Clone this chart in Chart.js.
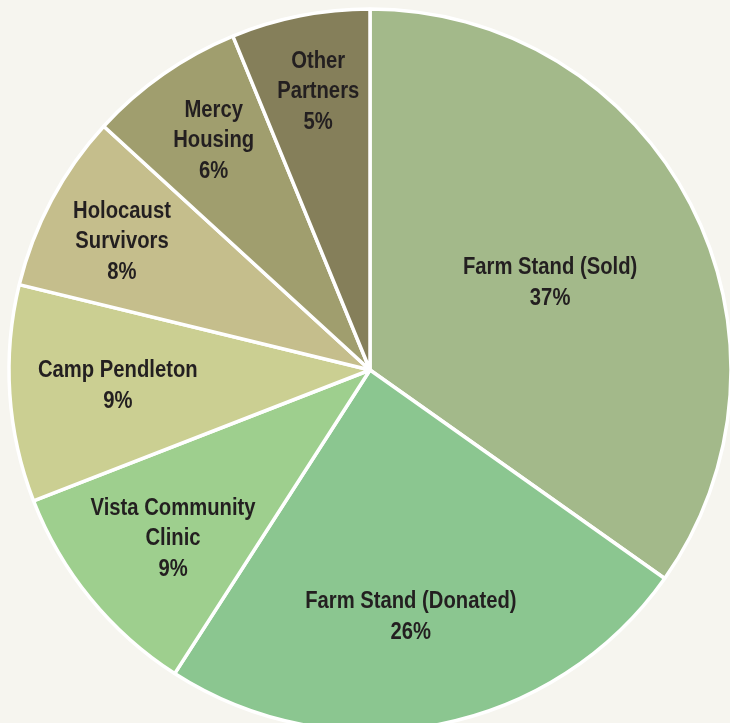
<!DOCTYPE html>
<html>
<head>
<meta charset="utf-8">
<script src="https://cdn.jsdelivr.net/npm/chart.js@4.4.1/dist/chart.umd.min.js"></script>
<style>
  html, body { margin: 0; padding: 0; background: #F6F5EF; overflow: hidden; width: 730px; height: 723px; }
  #wrap { position: absolute; left: 0; top: 0; width: 740px; height: 740px; }
</style>
</head>
<body>
<div id="wrap"><canvas id="c" width="740" height="740"></canvas></div>
<script>
// Slice categories (clockwise from 12 o'clock)
const categories = [
  ["Farm Stand (Sold)"],
  ["Farm Stand (Donated)"],
  ["Vista Community", "Clinic"],
  ["Camp Pendleton"],
  ["Holocaust", "Survivors"],
  ["Mercy", "Housing"],
  ["Other", "Partners"]
];
// Slice sizes as drawn in the picture (share of the circle, %)
const sliceValues = [34.8, 24.3, 10.0, 9.7, 8.0, 7.0, 6.2];
// Percent labels as printed on the chart
const percentLabels = ["37%", "26%", "9%", "9%", "8%", "6%", "5%"];
const sliceColors = ["#A3B98A", "#8BC690", "#9ECF8E", "#CBCF92", "#C5BE8C", "#A09E6E", "#857F5A"];

// label placement: radius fraction and small angle offset (deg) from slice middle
const labelRadiusFrac = [0.554, 0.694, 0.719, 0.70, 0.773, 0.768, 0.783];
const labelAngleOff = [1.6, 1.6, -1.4, 0.1, -0.8, 0.6, 0.6];

const labelPlugin = {
  id: 'sliceLabels',
  afterDatasetsDraw(chart) {
    const ctx = chart.ctx;
    const meta = chart.getDatasetMeta(0);
    ctx.save();
    ctx.fillStyle = '#231F20';
    ctx.font = 'bold 23px "Liberation Sans", Arial, sans-serif';
    ctx.textAlign = 'center';
    ctx.textBaseline = 'middle';
    const lineH = 30.5;
    const sx = 0.88;
    meta.data.forEach((arc, i) => {
      const p = arc.getProps(['x', 'y', 'startAngle', 'endAngle', 'outerRadius'], true);
      const mid = (p.startAngle + p.endAngle) / 2 + labelAngleOff[i] * Math.PI / 180;
      const r = p.outerRadius * labelRadiusFrac[i];
      const cx = p.x + Math.cos(mid) * r;
      const cy = p.y + Math.sin(mid) * r;
      const lines = categories[i].concat([percentLabels[i]]);
      const top = cy - (lines.length - 1) * lineH / 2;
      lines.forEach((t, k) => {
        ctx.save();
        ctx.translate(cx, top + k * lineH);
        ctx.scale(sx, 1);
        ctx.fillText(t, 0, 0);
        ctx.restore();
      });
    });
    ctx.restore();
  }
};

new Chart(document.getElementById('c'), {
  type: 'pie',
  data: {
    labels: categories.map(c => c.join(' ')),
    datasets: [{
      data: sliceValues,
      backgroundColor: sliceColors,
      borderColor: '#FFFFFF',
      borderWidth: 3.5,
      radius: 361
    }]
  },
  options: {
    responsive: false,
    devicePixelRatio: 1,
    animation: false,
    layout: { padding: 0 },
    plugins: {
      legend: { display: false },
      tooltip: { enabled: false }
    }
  },
  plugins: [labelPlugin]
});
</script>
</body>
</html>
